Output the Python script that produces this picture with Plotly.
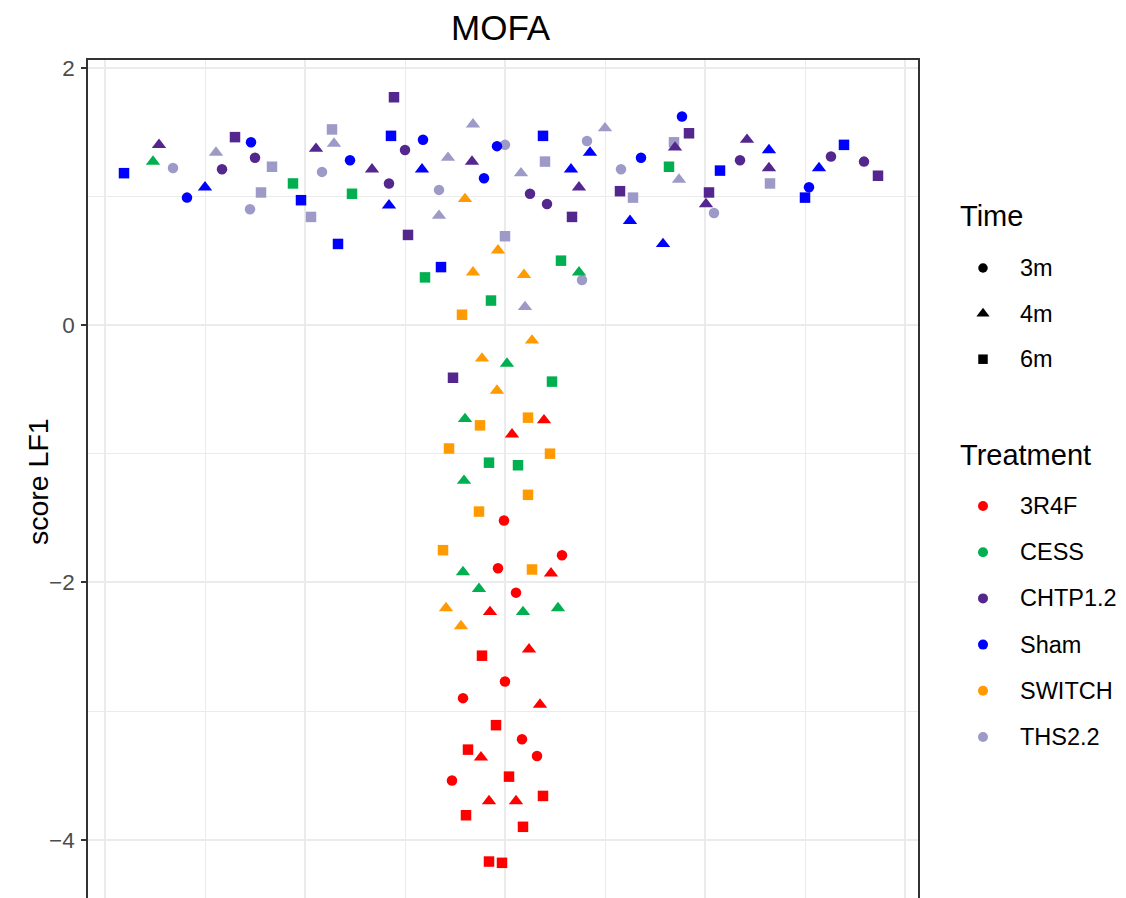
import plotly.graph_objects as go

W, H = 1126, 898

# ---- data: jittered position (x), latent factor 1 score (y), time point ----
treatments = ["3R4F", "CESS", "CHTP1.2", "Sham", "SWITCH", "THS2.2"]
times = ["3m", "4m", "6m"]

colors = {
    "3R4F": "#FF0000",
    "CESS": "#00B050",
    "CHTP1.2": "#54278F",
    "Sham": "#0000FF",
    "SWITCH": "#FF9A00",
    "THS2.2": "#9E9AC8",
}

r4f_x = [0.39, 0.07, -0.01, 0.57, -0.07, 0.46, 0.11, -0.15, 0.24, -0.23, 0.00, -0.42, 0.35, -0.09,
         0.17, -0.37, -0.24, 0.32, 0.04, -0.53, -0.16, 0.11, 0.38, -0.39, 0.18, -0.16, -0.03]
r4f_y = [-0.74, -0.85, -1.52, -1.79, -1.89, -1.93, -2.08, -2.23, -2.52, -2.57, -2.77, -2.90, -2.95,
         -3.11, -3.22, -3.30, -3.36, -3.35, -3.51, -3.54, -3.70, -3.70, -3.66, -3.81, -3.90, -4.17, -4.18]
r4f_t = ["4m", "4m", "3m", "3m", "3m", "4m", "3m", "4m", "4m", "6m", "3m", "3m", "4m", "6m",
         "3m", "6m", "4m", "3m", "6m", "3m", "4m", "4m", "6m", "6m", "6m", "6m", "6m"]

cess_x = [-3.52, -2.12, -1.53, 0.56, 0.74, -0.80, -0.14, 1.64, 0.02, 0.47, -0.40, -0.16, 0.13,
          -0.41, -0.42, -0.26, 0.18, 0.53]
cess_y = [1.27, 1.10, 1.02, 0.50, 0.41, 0.37, 0.19, 1.23, -0.30, -0.44, -0.73, -1.07, -1.09,
          -1.21, -1.92, -2.05, -2.23, -2.20]
cess_t = ["4m", "6m", "6m", "6m", "4m", "6m", "6m", "6m", "4m", "6m", "4m", "6m", "6m",
          "4m", "4m", "4m", "4m", "4m"]

chtp_x = [-3.46, -2.83, -2.70, -2.50, -1.89, -1.33, -1.11, -1.00, -1.16, -0.33, -0.97, 0.25, 0.42,
          0.74, 0.67, 1.15, 1.84, 1.70, 2.04, 2.01, 2.35, 2.42, 2.64, 3.26, 3.59, 3.73, -0.52]
chtp_y = [1.40, 1.21, 1.46, 1.30, 1.37, 1.21, 1.77, 1.36, 1.10, 1.27, 0.70, 1.02, 0.94,
          1.07, 0.84, 1.04, 1.49, 1.38, 1.03, 0.94, 1.28, 1.44, 1.22, 1.31, 1.27, 1.16, -0.41]
chtp_t = ["4m", "3m", "6m", "3m", "4m", "4m", "6m", "3m", "3m", "4m", "6m", "3m", "3m",
          "4m", "6m", "6m", "6m", "4m", "6m", "4m", "3m", "4m", "4m", "3m", "3m", "6m", "6m"]

sham_x = [-3.81, -3.18, -3.00, -2.54, -2.04, -1.67, -1.55, -1.14, -1.16, -0.82, -0.83, -0.64, -0.21,
          -0.08, 0.38, 0.66, 0.85, 1.36, 1.25, 1.58, 1.77, 2.15, 2.64, 3.04, 3.00, 3.14, 3.39]
sham_y = [1.18, 0.99, 1.07, 1.42, 0.97, 0.63, 1.28, 1.47, 0.93, 1.44, 1.21, 0.45, 1.14,
          1.39, 1.47, 1.21, 1.34, 1.30, 0.81, 0.63, 1.62, 1.20, 1.36, 1.07, 0.99, 1.22, 1.40]
sham_t = ["6m", "3m", "4m", "3m", "6m", "6m", "3m", "6m", "4m", "3m", "4m", "6m", "3m",
          "3m", "6m", "4m", "4m", "3m", "4m", "4m", "3m", "6m", "4m", "3m", "6m", "4m", "6m"]

switch_x = [-0.40, -0.07, -0.32, 0.19, -0.43, 0.27, -0.23, -0.08, -0.25, 0.23, -0.56, 0.45, 0.23,
            -0.26, -0.62, 0.27, -0.59, -0.44]
switch_y = [0.98, 0.58, 0.41, 0.39, 0.08, -0.12, -0.26, -0.51, -0.78, -0.72, -0.96, -1.00, -1.32,
            -1.45, -1.75, -1.90, -2.20, -2.34]
switch_t = ["4m", "4m", "4m", "4m", "6m", "4m", "4m", "4m", "6m", "6m", "6m", "6m", "6m",
            "6m", "6m", "6m", "4m", "4m"]

ths_x = [-3.32, -2.89, -2.33, -2.44, -2.55, -1.94, -1.73, -1.71, -1.83, -0.57, -0.32, 0.00, -0.66,
         -0.66, 0.00, 0.16, 0.40, 0.82, 1.00, 1.16, 1.28, 1.69, 1.74, 2.09, 2.65, 0.77, 0.20]
ths_y = [1.22, 1.34, 1.23, 1.03, 0.90, 0.84, 1.52, 1.41, 1.19, 1.30, 1.56, 1.40, 1.05,
         0.85, 0.69, 1.18, 1.27, 1.43, 1.53, 1.21, 0.99, 1.42, 1.13, 0.87, 1.10, 0.35, 0.14]
ths_t = ["3m", "4m", "6m", "6m", "3m", "6m", "6m", "4m", "3m", "4m", "4m", "3m", "3m",
         "4m", "6m", "4m", "6m", "3m", "4m", "3m", "6m", "6m", "4m", "3m", "6m", "3m", "4m"]

groups = {
    "THS2.2": (ths_x, ths_y, ths_t),
    "Sham": (sham_x, sham_y, sham_t),
    "CESS": (cess_x, cess_y, cess_t),
    "SWITCH": (switch_x, switch_y, switch_t),
    "CHTP1.2": (chtp_x, chtp_y, chtp_t),
    "3R4F": (r4f_x, r4f_y, r4f_t),
}

# ---- styling ----
symbol_of = {"3m": "circle", "4m": "triangle-up", "6m": "square"}
size_of = {"3m": 10.5, "4m": 12.5, "6m": 10.5}
FONT = "Liberation Sans, Arial, Helvetica, sans-serif"
GRID = "#EBEBEB"
AXIS = "#333333"

# panel placement (pixels)
PL, PR, PT, PB = 88, 918, 60, 898

fig = go.Figure()

for name, (xs, ys, ts) in groups.items():
    fig.add_trace(go.Scatter(
        x=xs, y=ys, mode="markers", name=name, showlegend=False,
        marker=dict(color=colors[name], opacity=1,
                    symbol=[symbol_of[t] for t in ts],
                    size=[size_of[t] for t in ts],
                    line=dict(width=0)),
        xaxis="x", yaxis="y",
    ))

# ---- legend keys drawn on a helper axis in pixel units ----
LX_SYM, LX_TXT, LX_TITLE = 983, 1018, 958
time_y0, time_step = 268, 45.6
trt_y0, trt_step = 506, 46.2

time_key_y = [time_y0 + i * time_step for i in range(len(times))]
trt_key_y = [trt_y0 + i * trt_step for i in range(len(treatments))]

fig.add_trace(go.Scatter(
    x=[LX_SYM] * len(times), y=time_key_y, mode="markers", showlegend=False,
    marker=dict(color="black", opacity=1, symbol=[symbol_of[t] for t in times],
                size=[9.5, 11.5, 9.5], line=dict(width=0)),
    xaxis="x2", yaxis="y2", hoverinfo="skip",
))
fig.add_trace(go.Scatter(
    x=[LX_SYM] * len(treatments), y=trt_key_y, mode="markers", showlegend=False,
    marker=dict(color=[colors[t] for t in treatments], opacity=1, symbol="circle", size=10,
                line=dict(width=0)),
    xaxis="x2", yaxis="y2", hoverinfo="skip",
))

annotations = []


def px_ann(text, x, y, size, xanchor="left", color="black", angle=0):
    annotations.append(dict(
        text=text, x=x / W, y=1 - y / H, xref="paper", yref="paper",
        xanchor=xanchor, yanchor="middle", showarrow=False, textangle=angle,
        font=dict(family=FONT, size=size, color=color),
    ))


px_ann("Time", LX_TITLE, 216, 29)
for t, yy in zip(times, time_key_y):
    px_ann(t, LX_TXT, yy, 23.5)
px_ann("Treatment", LX_TITLE, 455, 29)
for t, yy in zip(treatments, trt_key_y):
    px_ann(t, LX_TXT, yy, 23.5)

# plot title and y axis title
px_ann("MOFA", (PL + PR) / 2 - 2, 27, 35, xanchor="center")
px_ann("score LF1", 38, 482, 28.5, xanchor="center", angle=-90)

# y scale: 0 at 325 px, 128.67 px per unit
y_top = (325 - PT) / 128.67
y_bot = (325 - PB) / 128.67
# x scale: gridlines every 100 px, 0 at 505 px
x_left = (PL - 505) / 100
x_right = (PR - 505) / 100

fig.update_layout(
    width=W, height=H,
    margin=dict(l=0, r=0, t=0, b=0),
    paper_bgcolor="white", plot_bgcolor="rgba(0,0,0,0)",
    template="none",
    showlegend=False,
    annotations=annotations,
    xaxis=dict(
        domain=[PL / W, PR / W], range=[x_left, x_right],
        side="top", showline=True, linecolor=AXIS, linewidth=1.6, mirror=False,
        showticklabels=False, ticks="", ticklen=0, zeroline=False,
        tick0=0, dtick=2, showgrid=True, gridcolor=GRID, gridwidth=2,
        minor=dict(tick0=0, dtick=1, showgrid=True, gridcolor=GRID, gridwidth=1.1,
                   ticks="", ticklen=0),
        anchor="y", automargin=False, fixedrange=True,
    ),
    yaxis=dict(
        domain=[0, 1 - PT / H], range=[y_bot, y_top],
        showline=True, linecolor=AXIS, linewidth=1.6, mirror=True,
        ticks="outside", ticklen=5, tickwidth=1.6, tickcolor=AXIS,
        tick0=0, dtick=2, zeroline=False,
        showgrid=True, gridcolor=GRID, gridwidth=2,
        minor=dict(tick0=0, dtick=1, showgrid=True, gridcolor=GRID, gridwidth=1.1,
                   ticks="", ticklen=0),
        tickfont=dict(family=FONT, size=22.5, color="#4D4D4D"),
        ticklabelstandoff=2,
        anchor="x", automargin=False, fixedrange=True,
    ),
    xaxis2=dict(domain=[940 / W, 1], range=[940, W], visible=False,
                anchor="y2", fixedrange=True),
    yaxis2=dict(domain=[0, 1], range=[H, 0], visible=False,
                anchor="x2", fixedrange=True),
)

fig.write_html("out.html")
